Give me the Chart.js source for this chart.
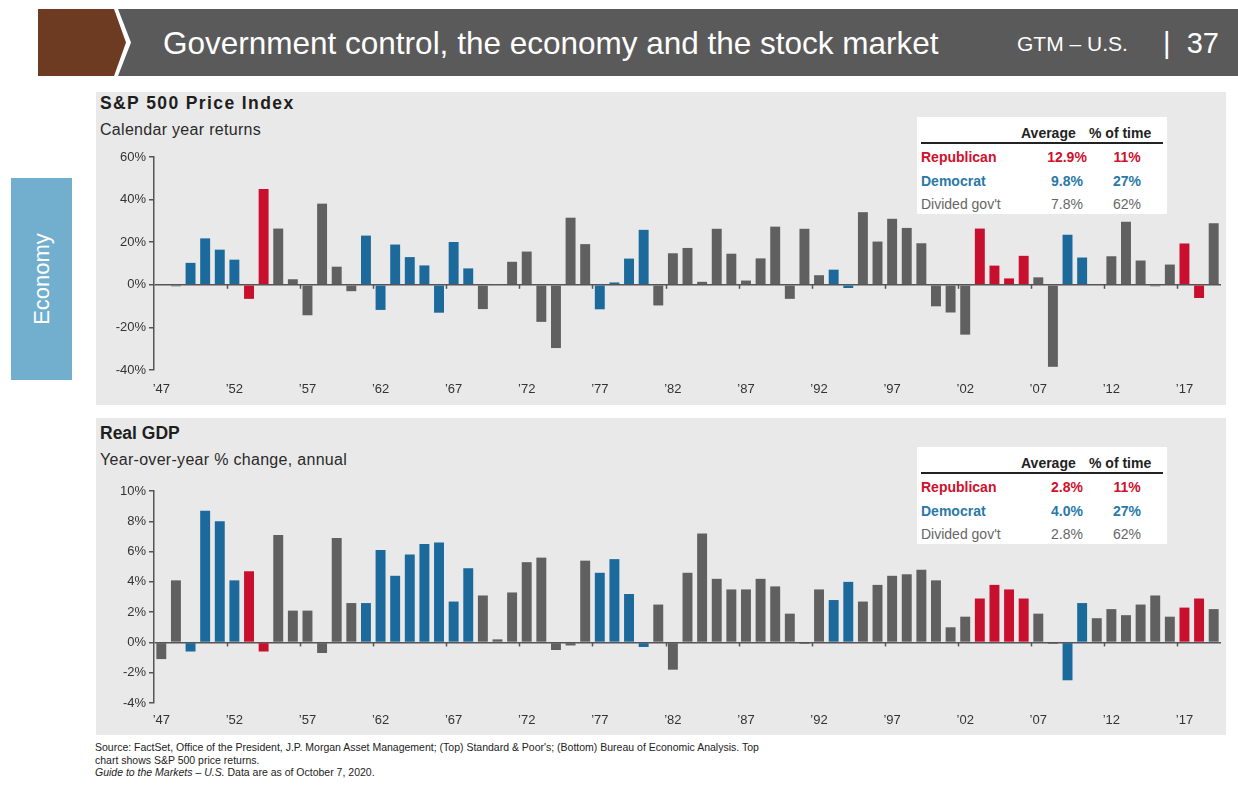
<!DOCTYPE html>
<html>
<head>
<meta charset="utf-8">
<script src="https://cdn.jsdelivr.net/npm/chart.js@4.4.0/dist/chart.umd.min.js"></script>
<style>
  body { margin: 0; width: 1238px; height: 787px; background: #fff; font-family: "Liberation Sans", Arial, sans-serif; position: relative; overflow: hidden; }
  .abs { position: absolute; }
  #brown { left: 38px; top: 9px; width: 88px; height: 67px; background: #6d3a22;
    clip-path: polygon(0 0, 76px 0, 88px 33.5px, 76px 67px, 0 67px); }
  #band { left: 118px; top: 9px; width: 1120px; height: 67px; background: #5a5a5a;
    clip-path: polygon(0 0, 1120px 0, 1120px 67px, 0 67px, 13px 33.5px); }
  #title { left: 163px; top: 24px; color: #fff; font-size: 31.5px; line-height: 38px; white-space: nowrap; }
  #gtm { left: 1017px; top: 32px; color: #fff; font-size: 21px; line-height: 24px; white-space: nowrap; }
  #page { left: 1163px; top: 25px; color: #fff; font-size: 29px; line-height: 36px; white-space: nowrap; }
  #tab { left: 11px; top: 178px; width: 61px; height: 202px; background: #72afcf; }
  #tab span { position: absolute; left: 50%; top: 50%; transform: translate(-50%, -50%) rotate(-90deg); color: #fff; font-size: 22px; white-space: nowrap; }
  .panel { background: #e9e9e9; left: 96px; width: 1130px; }
  .ptitle { font-weight: bold; font-size: 17.5px; color: #1e1e1e; left: 100px; }
  .psub { font-size: 16px; letter-spacing: 0.3px; color: #2a2a2a; left: 100px; }
  .tbl { background: #fff; width: 250px; height: 97px; left: 917px; font-size: 14px; }
  .tbl .hd { position: absolute; top: 8px; font-weight: bold; color: #222; }
  .tbl .rule { position: absolute; left: 4px; width: 242px; top: 25px; height: 2px; background: #222; }
  .tbl .cell { position: absolute; white-space: nowrap; }
  #foot { left: 95px; top: 741px; font-size: 10.5px; line-height: 12.5px; color: #222; }
  canvas { position: absolute; }
</style>
</head>
<body>
<div id="brown" class="abs"></div>
<div id="band" class="abs"></div>
<div id="title" class="abs">Government control, the economy and the stock market</div>
<div id="gtm" class="abs">GTM – U.S.</div>
<div id="page" class="abs">|&nbsp; 37</div>
<div id="tab" class="abs"><span>Economy</span></div>

<div class="abs panel" style="top:92px;height:313px;"></div>
<div class="abs panel" style="top:418px;height:317px;"></div>

<div class="abs ptitle" style="top:93px;letter-spacing:1.4px;">S&amp;P 500 Price Index</div>
<div class="abs psub" style="top:121px;">Calendar year returns</div>
<div class="abs ptitle" style="top:423px;">Real GDP</div>
<div class="abs psub" style="top:451px;">Year-over-year % change, annual</div>

<div id="tblTop" class="abs tbl" style="top:117px;"></div>
<div id="tblBot" class="abs tbl" style="top:447px;"></div>

<canvas id="spChart" width="1129" height="262" style="left:96px;top:140px;"></canvas>
<canvas id="gdpChart" width="1129" height="265" style="left:96px;top:470px;"></canvas>

<div id="foot" class="abs">Source: FactSet, Office of the President, J.P. Morgan Asset Management; (Top) Standard &amp; Poor's; (Bottom) Bureau of Economic Analysis. Top<br>chart shows S&amp;P 500 price returns.<br><i>Guide to the Markets – U.S.</i> Data are as of October 7, 2020.</div>

<script>
const years = [];
for (let y = 1947; y <= 2019; y++) years.push(y);

// G = divided government, D = Democrat, R = Republican
const control = [
  'G','G','D','D','D','D','R','R','G','G','G','G','G','G',
  'D','D','D','D','D','D','D','D','G','G','G','G','G','G','G','G',
  'D','D','D','D','G','G','G','G','G','G','G','G','G','G','G','G',
  'D','D','G','G','G','G','G','G','G','G','R','R','R','R','G','G',
  'D','D','G','G','G','G','G','G','R','R','G'
];

const spReturns = [
  0.0, -0.7, 10.3, 21.8, 16.5, 11.8, -6.6, 45.0, 26.4, 2.6, -14.3, 38.1, 8.5, -3.0,
  23.1, -11.8, 18.9, 13.0, 9.1, -13.1, 20.1, 7.7, -11.4, 0.1, 10.8, 15.6, -17.4, -29.7,
  31.5, 19.1, -11.5, 1.1, 12.3, 25.8, -9.7, 14.8, 17.3, 1.4, 26.3, 14.6, 2.0, 12.4,
  27.3, -6.6, 26.3, 4.5, 7.1, -1.5, 34.1, 20.3, 31.0, 26.7, 19.5, -10.1, -13.0, -23.4,
  26.4, 9.0, 3.0, 13.6, 3.5, -38.5, 23.5, 12.8, 0.0, 13.4, 29.6, 11.4, -0.7, 9.5,
  19.4, -6.2, 28.9
];

const gdpGrowth = [
  -1.1, 4.1, -0.6, 8.7, 8.0, 4.1, 4.7, -0.6, 7.1, 2.1, 2.1, -0.7, 6.9, 2.6,
  2.6, 6.1, 4.4, 5.8, 6.5, 6.6, 2.7, 4.9, 3.1, 0.2, 3.3, 5.3, 5.6, -0.5,
  -0.2, 5.4, 4.6, 5.5, 3.2, -0.3, 2.5, -1.8, 4.6, 7.2, 4.2, 3.5, 3.5, 4.2,
  3.7, 1.9, -0.1, 3.5, 2.8, 4.0, 2.7, 3.8, 4.4, 4.5, 4.8, 4.1, 1.0, 1.7,
  2.9, 3.8, 3.5, 2.9, 1.9, -0.1, -2.5, 2.6, 1.6, 2.2, 1.8, 2.5, 3.1, 1.7,
  2.3, 2.9, 2.2
];

const spTicks = [-40, 60, 20];
const gdpTicks = [-4, 10, 2];

const groupNames = ['Republican', 'Democrat', "Divided gov't"];
const spAverage = ['12.9%', '9.8%', '7.8%'];
const gdpAverage = ['2.8%', '4.0%', '2.8%'];
const shareOfTime = ['11%', '27%', '62%'];

const partyColors = { R: '#c8102e', D: '#1c6a9c', G: '#606060' };
const rowColors = ['#d0102c', '#2a78a8', '#666'];
const rowWeights = ['bold', 'bold', 'normal'];

function buildTable(id, averages) {
  const el = document.getElementById(id);
  let html = '<div class="hd" style="left:104px">Average</div>' +
             '<div class="hd" style="left:172px">% of time</div>' +
             '<div class="rule"></div>';
  groupNames.forEach((name, i) => {
    const top = 32 + i * 23.5;
    const st = 'top:' + top + 'px;color:' + rowColors[i] + ';font-weight:' + rowWeights[i] + ';';
    html += '<div class="cell" style="left:4px;' + st + '">' + name + '</div>';
    html += '<div class="cell" style="left:130px;width:40px;text-align:center;' + st + '">' + averages[i] + '</div>';
    html += '<div class="cell" style="left:190px;width:40px;text-align:center;' + st + '">' + shareOfTime[i] + '</div>';
  });
  el.innerHTML = html;
}
buildTable('tblTop', spAverage);
buildTable('tblBot', gdpAverage);

const zeroTicks = {
  id: 'zeroTicks',
  afterDatasetsDraw(chart) {
    const x = chart.scales.x, y = chart.scales.y, ctx = chart.ctx;
    const y0 = y.getPixelForValue(0);
    const half = (x.getPixelForValue(1) - x.getPixelForValue(0)) / 2;
    ctx.save();
    ctx.strokeStyle = '#555';
    ctx.lineWidth = 1.5;
    years.forEach((yr, i) => {
      if (i > 0 && (yr - 1947) % 5 === 0) {
        const px = Math.round(x.getPixelForValue(i) - half) + 0.5;
        ctx.beginPath();
        ctx.moveTo(px, y0);
        ctx.lineTo(px, y0 + 4);
        ctx.stroke();
      }
    });
    ctx.restore();
  }
};

function makeChart(canvasId, values, ticks, padTop, labelPad) {
  const ctx = document.getElementById(canvasId).getContext('2d');
  return new Chart(ctx, {
    type: 'bar',
    data: {
      labels: years.map(String),
      datasets: [{
        data: values,
        backgroundColor: control.map(c => partyColors[c]),
        barPercentage: 0.68,
        categoryPercentage: 1.0,
        borderWidth: 0
      }]
    },
    options: {
      responsive: false,
      animation: false,
      devicePixelRatio: 1,
      layout: { padding: { top: padTop, right: 4, bottom: 2, left: 0 } },
      plugins: { legend: { display: false }, tooltip: { enabled: false } },
      scales: {
        x: {
          grid: { display: false },
          border: { display: false },
          ticks: {
            autoSkip: false,
            maxRotation: 0,
            padding: labelPad,
            color: '#333',
            font: { family: 'Liberation Sans', size: 13 },
            callback: function(val, i) {
              const yr = years[i];
              return (yr - 1947) % 5 === 0 ? '\u2019' + String(yr).slice(2) : '';
            }
          },
          afterFit: function(scale) { scale.height = 30; }
        },
        y: {
          min: ticks[0],
          max: ticks[1],
          ticks: {
            stepSize: ticks[2],
            padding: 3,
            color: '#333',
            font: { family: 'Liberation Sans', size: 13 },
            callback: v => v + '%'
          },
          grid: {
            color: c => (c.tick && c.tick.value === 0) ? '#555' : 'rgba(0,0,0,0)',
            lineWidth: 1.5,
            tickColor: '#555',
            tickLength: 5
          },
          border: { display: true, color: '#555', width: 1.5 },
          afterFit: function(scale) { scale.width = 58; }
        }
      }
    },
    plugins: [zeroTicks]
  });
}

makeChart('spChart', spReturns, spTicks, 17, 4);
makeChart('gdpChart', gdpGrowth, gdpTicks, 21, 2);
</script>
</body>
</html>
